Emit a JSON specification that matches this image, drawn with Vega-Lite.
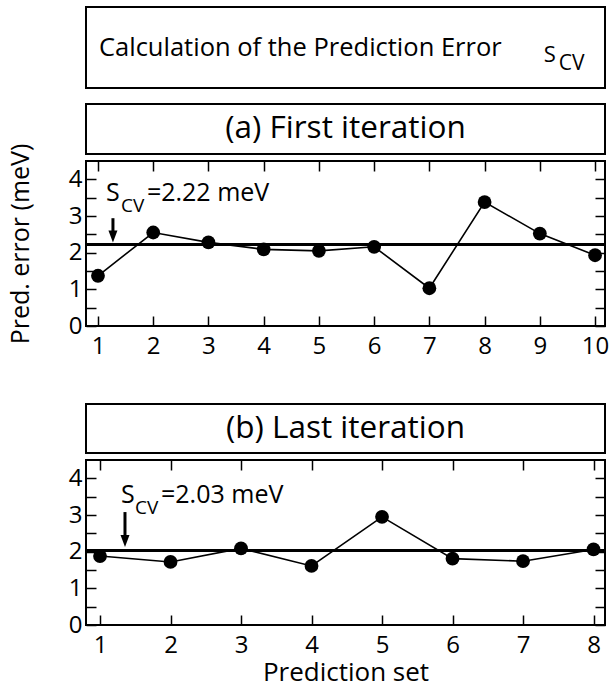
{
  "$schema": "https://vega.github.io/schema/vega-lite/v6.json",
  "background": "white",
  "padding": {"left": 7, "top": 6, "right": 0, "bottom": 0},
  "autosize": {"type": "pad"},
  "bounds": "flush",
  "spacing": 7,
  "config": {
    "view": {"stroke": "black", "strokeWidth": 2},
    "font": "Open Sans",
    "axis": {"labelFont": "Open Sans", "labelFontSize": 24, "labelColor": "black", "titleFont": "Open Sans", "titleFontWeight": "normal", "titleColor": "black", "tickColor": "black", "tickWidth": 1.5, "domain": false, "grid": false, "labelFlush": false, "labelOverlap": false},
    "text": {"font": "Open Sans", "color": "black"}
  },
  "datasets": {
    "first": [
      {"set": 1, "err": 1.37}, {"set": 2, "err": 2.55}, {"set": 3, "err": 2.28}, {"set": 4, "err": 2.09}, {"set": 5, "err": 2.05},
      {"set": 6, "err": 2.16}, {"set": 7, "err": 1.03}, {"set": 8, "err": 3.38}, {"set": 9, "err": 2.52}, {"set": 10, "err": 1.93}
    ],
    "last": [
      {"set": 1, "err": 1.88}, {"set": 2, "err": 1.72}, {"set": 3, "err": 2.09}, {"set": 4, "err": 1.61},
      {"set": 5, "err": 2.95}, {"set": 6, "err": 1.81}, {"set": 7, "err": 1.74}, {"set": 8, "err": 2.06}
    ],
    "scvFirst": [{"scv": 2.22, "sym": "S", "sub": "CV", "label": "=2.22 meV"}],
    "scvLast": [{"scv": 2.03, "sym": "S", "sub": "CV", "label": "=2.03 meV"}]
  },
  "vconcat": [
    {
      "width": 519, "height": 81,
      "layer": [
        {"data": {"values": [{"label": "Calculation of the Prediction Error"}]},
         "mark": {"type": "text", "align": "left", "baseline": "alphabetic", "fontSize": 25.5},
         "encoding": {"text": {"field": "label"},
           "x": {"datum": 0.025, "type": "quantitative", "scale": {"domain": [0, 1], "nice": false}, "axis": null},
           "y": {"datum": 0.395, "type": "quantitative", "scale": {"domain": [0, 1], "nice": false}, "axis": null}}},
        {"data": {"values": [{"label": "S"}]},
         "mark": {"type": "text", "align": "left", "baseline": "alphabetic", "fontSize": 22},
         "encoding": {"text": {"field": "label"},
           "x": {"datum": 0.882, "type": "quantitative", "axis": null},
           "y": {"datum": 0.321, "type": "quantitative", "axis": null}}},
        {"data": {"values": [{"label": "CV"}]},
         "mark": {"type": "text", "align": "left", "baseline": "alphabetic", "fontSize": 21},
         "encoding": {"text": {"field": "label"},
           "x": {"datum": 0.911, "type": "quantitative", "axis": null},
           "y": {"datum": 0.222, "type": "quantitative", "axis": null}}}
      ]
    },
    {"width": 519, "height": 2, "view": {"stroke": null}, "data": {"values": [{"label": ""}]}, "mark": {"type": "text"}, "encoding": {"text": {"field": "label"}}},
    {"width": 519, "height": 50, "data": {"values": [{"label": "(a) First iteration"}]},
     "mark": {"type": "text", "fontSize": 31.5},
     "encoding": {"text": {"field": "label"},
       "x": {"datum": 0.5, "type": "quantitative", "scale": {"domain": [0, 1], "nice": false}, "axis": null},
       "y": {"datum": 0.5, "type": "quantitative", "scale": {"domain": [0, 1], "nice": false}, "axis": null}}},
    {
      "width": 519, "height": 165,
      "resolve": {"axis": {"x": "independent", "y": "independent"}},
      "layer": [
        {"data": {"name": "first"},
         "mark": {"type": "line", "color": "black", "strokeWidth": 1.6},
         "encoding": {
           "x": {"field": "set", "type": "quantitative", "scale": {"domain": [0.783, 10.18], "nice": false, "zero": false},
                 "axis": {"orient": "bottom", "title": null, "values": [1,2,3,4,5,6,7,8,9,10], "tickSize": -10, "labelPadding": 18}},
           "y": {"field": "err", "type": "quantitative", "scale": {"domain": [0, 4.5], "nice": false, "zero": false},
                 "axis": {"orient": "left", "title": "Pred. error (meV)", "titleFontSize": 25, "titlePadding": 35,
                          "values": [0,0.5,1,1.5,2,2.5,3,3.5,4], "labelExpr": "datum.value % 1 === 0 ? '' + datum.value : ''",
                          "tickSize": -10, "labelPadding": 14,
                          "encode": {"ticks": {"update": {"x2": {"signal": "datum.value % 1 === 0 ? 10 : 6"}}}}}}}},
        {"data": {"name": "first"},
         "mark": {"type": "point", "filled": true, "color": "black", "size": 190, "opacity": 1},
         "encoding": {
           "x": {"field": "set", "type": "quantitative",
                 "axis": {"orient": "top", "title": null, "labels": false, "values": [1,2,3,4,5,6,7,8,9,10], "tickSize": -10}},
           "y": {"field": "err", "type": "quantitative",
                 "axis": {"orient": "right", "title": null, "labels": false, "values": [0,0.5,1,1.5,2,2.5,3,3.5,4], "tickSize": -10,
                          "encode": {"ticks": {"update": {"x2": {"signal": "datum.value % 1 === 0 ? -10 : -6"}}}}}}}},
        {"data": {"name": "scvFirst"},
         "mark": {"type": "rule", "color": "black", "strokeWidth": 3},
         "encoding": {"y": {"field": "scv", "type": "quantitative", "axis": null}}},
        {"data": {"name": "scvFirst"},
         "mark": {"type": "rule", "color": "black", "strokeWidth": 3},
         "encoding": {"x": {"datum": 1.271, "type": "quantitative", "axis": null},
                      "y": {"datum": 2.94, "type": "quantitative", "axis": null}, "y2": {"datum": 2.44}}},
        {"data": {"name": "scvFirst"},
         "mark": {"type": "point", "shape": "M -0.75 -1 L 0.75 -1 L 0 1 Z", "filled": true, "color": "black", "size": 144, "opacity": 1},
         "encoding": {"x": {"datum": 1.271, "type": "quantitative", "axis": null},
                      "y": {"datum": 2.44, "type": "quantitative", "axis": null}}},
        {"data": {"name": "scvFirst"},
         "mark": {"type": "text", "align": "left", "baseline": "alphabetic", "fontSize": 25},
         "encoding": {"text": {"field": "sym"}, "x": {"datum": 1.145, "type": "quantitative", "axis": null},
                      "y": {"datum": 3.41, "type": "quantitative", "axis": null}}},
        {"data": {"name": "scvFirst"},
         "mark": {"type": "text", "align": "left", "baseline": "alphabetic", "fontSize": 19},
         "encoding": {"text": {"field": "sub"}, "x": {"datum": 1.416, "type": "quantitative", "axis": null},
                      "y": {"datum": 3.11, "type": "quantitative", "axis": null}}},
        {"data": {"name": "scvFirst"},
         "mark": {"type": "text", "align": "left", "baseline": "alphabetic", "fontSize": 25},
         "encoding": {"text": {"field": "label"}, "x": {"datum": 1.886, "type": "quantitative", "axis": null},
                      "y": {"datum": 3.41, "type": "quantitative", "axis": null}}}
      ]
    },
    {"width": 519, "height": 64, "view": {"stroke": null}, "data": {"values": [{"label": ""}]}, "mark": {"type": "text"}, "encoding": {"text": {"field": "label"}}},
    {"width": 519, "height": 49, "data": {"values": [{"label": "(b) Last iteration"}]},
     "mark": {"type": "text", "fontSize": 31.5},
     "encoding": {"text": {"field": "label"},
       "x": {"datum": 0.5, "type": "quantitative", "scale": {"domain": [0, 1], "nice": false}, "axis": null},
       "y": {"datum": 0.5, "type": "quantitative", "scale": {"domain": [0, 1], "nice": false}, "axis": null}}},
    {
      "width": 519, "height": 165,
      "resolve": {"axis": {"x": "independent", "y": "independent"}},
      "layer": [
        {"data": {"name": "last"},
         "mark": {"type": "line", "color": "black", "strokeWidth": 1.6},
         "encoding": {
           "x": {"field": "set", "type": "quantitative", "scale": {"domain": [0.801, 8.163], "nice": false, "zero": false},
                 "axis": {"orient": "bottom", "title": "Prediction set", "titleFontSize": 26, "titlePadding": 2, "values": [1,2,3,4,5,6,7,8], "tickSize": -10, "labelPadding": 18}},
           "y": {"field": "err", "type": "quantitative", "scale": {"domain": [0, 4.5], "nice": false, "zero": false},
                 "axis": {"orient": "left", "title": null,
                          "values": [0,0.5,1,1.5,2,2.5,3,3.5,4], "labelExpr": "datum.value % 1 === 0 ? '' + datum.value : ''",
                          "tickSize": -10, "labelPadding": 14,
                          "encode": {"ticks": {"update": {"x2": {"signal": "datum.value % 1 === 0 ? 10 : 6"}}}}}}}},
        {"data": {"name": "last"},
         "mark": {"type": "point", "filled": true, "color": "black", "size": 190, "opacity": 1},
         "encoding": {
           "x": {"field": "set", "type": "quantitative",
                 "axis": {"orient": "top", "title": null, "labels": false, "values": [1,2,3,4,5,6,7,8], "tickSize": -10}},
           "y": {"field": "err", "type": "quantitative",
                 "axis": {"orient": "right", "title": null, "labels": false, "values": [0,0.5,1,1.5,2,2.5,3,3.5,4], "tickSize": -10,
                          "encode": {"ticks": {"update": {"x2": {"signal": "datum.value % 1 === 0 ? -10 : -6"}}}}}}}},
        {"data": {"name": "scvLast"},
         "mark": {"type": "rule", "color": "black", "strokeWidth": 3},
         "encoding": {"y": {"field": "scv", "type": "quantitative", "axis": null}}},
        {"data": {"name": "scvLast"},
         "mark": {"type": "rule", "color": "black", "strokeWidth": 3},
         "encoding": {"x": {"datum": 1.354, "type": "quantitative", "axis": null},
                      "y": {"datum": 3.08, "type": "quantitative", "axis": null}, "y2": {"datum": 2.29}}},
        {"data": {"name": "scvLast"},
         "mark": {"type": "point", "shape": "M -0.75 -1 L 0.75 -1 L 0 1 Z", "filled": true, "color": "black", "size": 144, "opacity": 1},
         "encoding": {"x": {"datum": 1.354, "type": "quantitative", "axis": null},
                      "y": {"datum": 2.29, "type": "quantitative", "axis": null}}},
        {"data": {"name": "scvLast"},
         "mark": {"type": "text", "align": "left", "baseline": "alphabetic", "fontSize": 25},
         "encoding": {"text": {"field": "sym"}, "x": {"datum": 1.297, "type": "quantitative", "axis": null},
                      "y": {"datum": 3.33, "type": "quantitative", "axis": null}}},
        {"data": {"name": "scvLast"},
         "mark": {"type": "text", "align": "left", "baseline": "alphabetic", "fontSize": 19},
         "encoding": {"text": {"field": "sub"}, "x": {"datum": 1.496, "type": "quantitative", "axis": null},
                      "y": {"datum": 3.03, "type": "quantitative", "axis": null}}},
        {"data": {"name": "scvLast"},
         "mark": {"type": "text", "align": "left", "baseline": "alphabetic", "fontSize": 25},
         "encoding": {"text": {"field": "label"}, "x": {"datum": 1.865, "type": "quantitative", "axis": null},
                      "y": {"datum": 3.33, "type": "quantitative", "axis": null}}}
      ]
    }
  ]
}
